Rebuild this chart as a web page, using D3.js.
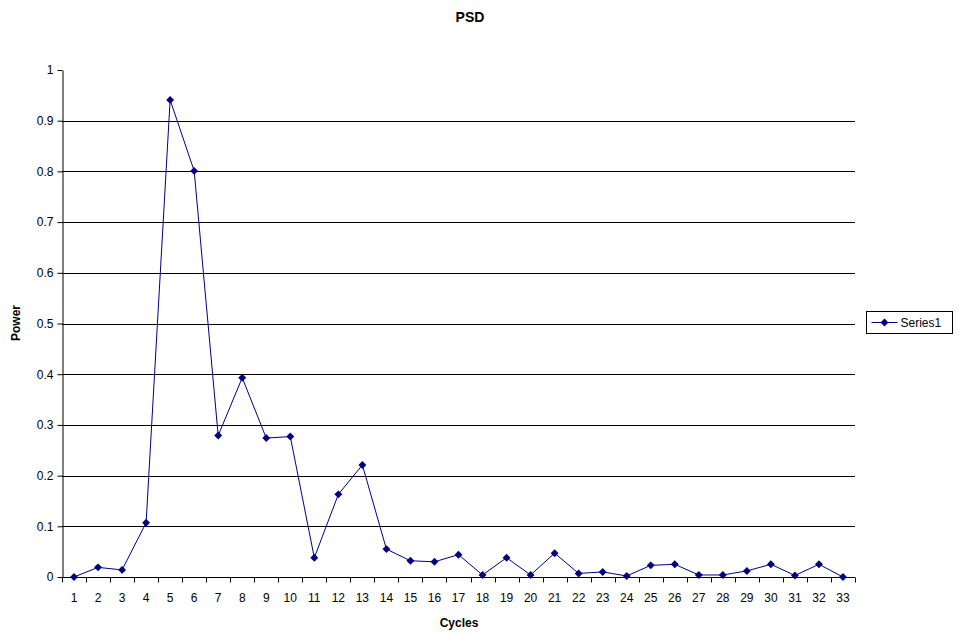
<!DOCTYPE html>
<html>
<head>
<meta charset="utf-8">
<script src="https://cdn.jsdelivr.net/npm/d3@7"></script>
<style>
    body { margin: 0; background: #fff; }
    svg text { font-family: "Liberation Sans", Arial, sans-serif; fill: #000; }
</style>
</head>
<body>
<svg id="psd-chart"></svg>
<script>
const width = 959, height = 635
const margin = {
    top: 70,
    bottom: 58,
    left: 62,
    right: 104,
}

const cycles = d3.range(1, 34).map(String)
const power = [
    0, 0.019, 0.014, 0.107, 0.941, 0.801, 0.279, 0.393, 0.274, 0.277,
    0.038, 0.163, 0.221, 0.055, 0.032, 0.030, 0.044, 0.004, 0.038, 0.004,
    0.047, 0.007, 0.010, 0.002, 0.023, 0.025, 0.004, 0.004, 0.012, 0.025,
    0.003, 0.025, 0,
]
const yTicks = d3.range(0, 11).map(i => i / 10)
const seriesName = "Series1"

const data = cycles.map((c, i) => ({cycle: c, value: power[i]}))

const svg = d3.select("svg#psd-chart")
    .attr("viewBox", [0, 0, width, height])
    .attr("width", width)
    .attr("height", height)

const xScale = d3.scaleBand()
    .domain(cycles)
    .range([margin.left, width - margin.right])

const yScale = d3.scaleLinear()
    .domain([0, 1])
    .range([height - margin.bottom, margin.top])

const lineColor = "#000080"

// H grid lines
svg.append("g").classed("h-grid", true)
    .selectAll("line")
    .data(yTicks.filter(d => d > 0 && d < 1))
    .enter()
    .append("line")
    .attr("x1", margin.left)
    .attr("x2", width - margin.right)
    .attr("y1", d => Math.round(yScale(d)) + 0.5)
    .attr("y2", d => Math.round(yScale(d)) + 0.5)
    .attr("stroke", "#000")

// X axis
const xAxis = svg.append("g").classed("x-axis", true)
    .attr("transform", `translate(0, ${Math.round(yScale(0)) + 0.5})`)
xAxis.append("line")
    .attr("x1", margin.left).attr("x2", width - margin.right)
    .attr("stroke", "#000")
xAxis.selectAll("line.tick")
    .data(cycles.concat(["end"]))
    .enter()
    .append("line")
    .attr("x1", (d, i) => Math.round(margin.left + i * xScale.step()) + 0.5)
    .attr("x2", (d, i) => Math.round(margin.left + i * xScale.step()) + 0.5)
    .attr("y1", 0).attr("y2", 5)
    .attr("stroke", "#000")
xAxis.selectAll("text")
    .data(cycles)
    .enter()
    .append("text")
    .attr("x", d => xScale(d) + xScale.bandwidth() / 2)
    .attr("y", 24)
    .attr("text-anchor", "middle")
    .attr("font-size", 12)
    .text(d => d)

// Y axis
const yAxis = svg.append("g").classed("y-axis", true)
    .attr("transform", `translate(${margin.left + 0.5}, 0)`)
    .call(d3.axisLeft(yScale).tickValues(yTicks).tickSize(5).tickSizeOuter(0).tickPadding(4)
        .tickFormat(d => d === 0 ? "0" : d === 1 ? "1" : d3.format(".1f")(d)))
yAxis.select(".domain").attr("stroke", "#000")
yAxis.selectAll(".tick line").attr("stroke", "#000")
yAxis.selectAll(".tick text")
    .attr("font-size", 12)
    .attr("font-family", "Liberation Sans, Arial, sans-serif")
    .attr("fill", "#000")

// Series line
const line = d3.line()
    .x(d => xScale(d.cycle) + xScale.bandwidth() / 2)
    .y(d => yScale(d.value))

svg.append("path")
    .datum(data)
    .attr("fill", "none")
    .attr("stroke", lineColor)
    .attr("stroke-width", 1)
    .attr("d", line)

const diamond = d3.symbol().type(d3.symbolDiamond2).size(40)

svg.append("g").classed("markers", true)
    .selectAll("path")
    .data(data)
    .enter()
    .append("path")
    .attr("transform", d => `translate(${xScale(d.cycle) + xScale.bandwidth() / 2}, ${yScale(d.value)})`)
    .attr("d", diamond)
    .attr("fill", lineColor)

// Titles
svg.append("text")
    .attr("x", 470).attr("y", 22)
    .attr("text-anchor", "middle")
    .attr("font-size", 14).attr("font-weight", "bold")
    .text("PSD")

svg.append("text")
    .attr("x", 459).attr("y", 627)
    .attr("text-anchor", "middle")
    .attr("font-size", 12).attr("font-weight", "bold")
    .text("Cycles")

svg.append("text")
    .attr("transform", "translate(20, 323) rotate(-90)")
    .attr("text-anchor", "middle")
    .attr("font-size", 12).attr("font-weight", "bold")
    .text("Power")

// Legend
const legend = svg.append("g").classed("legend", true)
    .attr("transform", "translate(866.5, 311.5)")
legend.append("rect")
    .attr("width", 86).attr("height", 22)
    .attr("fill", "#fff").attr("stroke", "#000")
legend.append("line")
    .attr("x1", 5).attr("x2", 31).attr("y1", 11).attr("y2", 11)
    .attr("stroke", lineColor)
legend.append("path")
    .attr("transform", "translate(18, 11)")
    .attr("d", diamond)
    .attr("fill", lineColor)
legend.append("text")
    .attr("x", 34).attr("y", 15.5)
    .attr("font-size", 12)
    .text(seriesName)
</script>
</body>
</html>
